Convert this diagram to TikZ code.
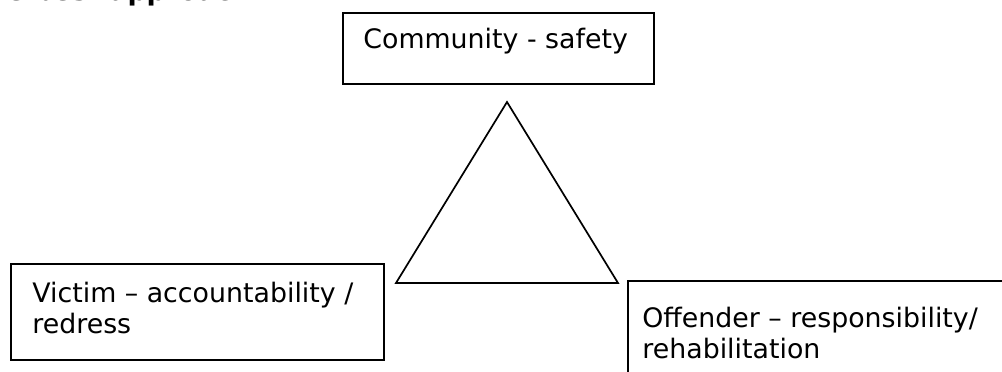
\documentclass[tikz,border=0pt]{standalone}
\usepackage{fontspec}
\setmainfont{DejaVu Sans}
\usetikzlibrary{positioning}

\begin{document}
\begin{tikzpicture}[x=0.5pt,y=-0.5pt,
  box/.style={draw,line width=1pt,inner sep=0pt,anchor=north west},
  lbl/.style={anchor=base west,inner sep=0pt,align=left,
              font=\fontsize{13.4}{15.3}\selectfont},
  tri/.style={draw,line width=0.85pt,line join=miter}]
 \useasboundingbox (0,0) rectangle (1002,371);
 \clip (0,0) rectangle (1002,371);
 % heading, cut off by the page top
 \node[lbl,anchor=base east,font=\fontsize{13.4}{15.3}\selectfont\bfseries] (head) at (251,0) {The best approach};
 % the three boxes
 \node[box,minimum width=155.5pt,minimum height=35.5pt] (com) at (342,12) {};
 \node[box,minimum width=186.5pt,minimum height=48pt] (vic) at (10,263) {};
 \node[box,minimum width=200pt,minimum height=60pt] (off) at (627,280) {};
 % texts (base = last line)
 \node[lbl] (comtxt) at ([shift={(21,36)}]com.north west) {Community - safety};
 \node[lbl] (victxt) at ([shift={(22,70)}]vic.north west) {Victim – accountability /\\ redress};
 \node[lbl] (offtxt) at ([shift={(15,78)}]off.north west) {Offender – responsibility/\\ rehabilitation};
 % triangle in the middle
 \coordinate (apex) at (507,102);
 \coordinate (bl) at (396,283);
 \coordinate (br) at (618,283);
 \draw[tri] (apex) -- (bl) -- (br) -- cycle;
\end{tikzpicture}
\end{document}
